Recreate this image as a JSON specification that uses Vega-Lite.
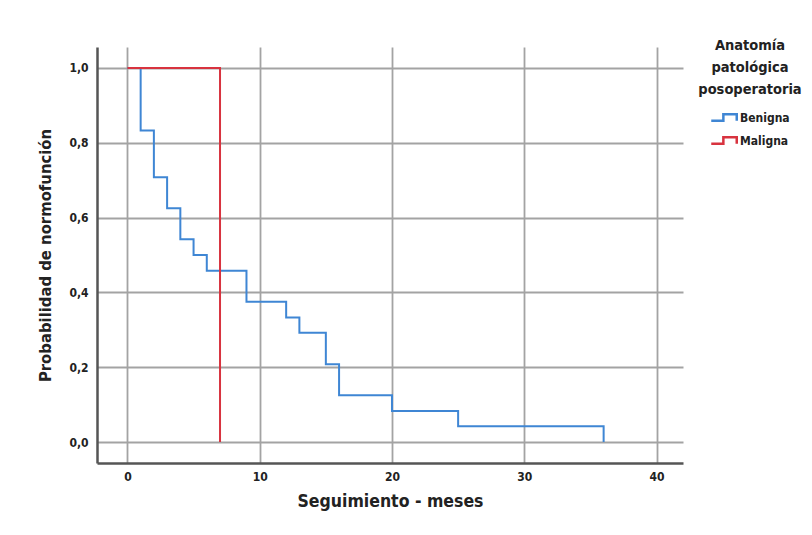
{
  "$schema": "https://vega.github.io/schema/vega-lite/v6.json",
  "width": 586,
  "height": 416,
  "autosize": "none",
  "padding": {"left": 97, "top": 47, "right": 129, "bottom": 72},
  "background": "white",
  "config": {
    "view": {"stroke": null},
    "font": "'DejaVu Sans Condensed', Roboto, sans-serif",
    "axis": {"labelFont": "'DejaVu Sans Condensed', Roboto, sans-serif", "titleFont": "'DejaVu Sans Condensed', Roboto, sans-serif"},
    "legend": {"labelFont": "'DejaVu Sans Condensed', Roboto, sans-serif", "titleFont": "'DejaVu Sans Condensed', Roboto, sans-serif"}
  },
  "data": {
    "values": [
      {"t": 0, "s": 1.0, "g": "Benigna"},
      {"t": 1, "s": 0.833, "g": "Benigna"},
      {"t": 2, "s": 0.708, "g": "Benigna"},
      {"t": 3, "s": 0.625, "g": "Benigna"},
      {"t": 4, "s": 0.542, "g": "Benigna"},
      {"t": 5, "s": 0.5, "g": "Benigna"},
      {"t": 6, "s": 0.458, "g": "Benigna"},
      {"t": 9, "s": 0.375, "g": "Benigna"},
      {"t": 12, "s": 0.333, "g": "Benigna"},
      {"t": 13, "s": 0.292, "g": "Benigna"},
      {"t": 15, "s": 0.208, "g": "Benigna"},
      {"t": 16, "s": 0.125, "g": "Benigna"},
      {"t": 20, "s": 0.083, "g": "Benigna"},
      {"t": 25, "s": 0.042, "g": "Benigna"},
      {"t": 36, "s": 0.0, "g": "Benigna"},
      {"t": 0, "s": 1.0, "g": "Maligna"},
      {"t": 7, "s": 0.0, "g": "Maligna"}
    ]
  },
  "mark": {"type": "line", "interpolate": "step-after", "strokeWidth": 2},
  "encoding": {
    "x": {
      "field": "t", "type": "quantitative",
      "scale": {"domain": [-2.3, 42], "nice": false, "zero": false},
      "axis": {
        "values": [0, 10, 20, 30, 40],
        "title": "Seguimiento - meses",
        "titleFontSize": 17.5, "titleFontWeight": "bold", "titleColor": "#222",
        "titlePadding": 10,
        "labelFontSize": 12, "labelFontWeight": "bold", "labelColor": "#222",
        "labelPadding": 8,
        "ticks": false,
        "domainColor": "#555", "domainWidth": 2.5,
        "grid": true, "gridColor": "#a3a3a3", "gridWidth": 1.8
      }
    },
    "y": {
      "field": "s", "type": "quantitative",
      "scale": {"domain": [-0.056, 1.056], "nice": false, "zero": false},
      "axis": {
        "values": [0, 0.2, 0.4, 0.6, 0.8, 1.0],
        "labelExpr": "replace(format(datum.value, '.1f'), '.', ',')",
        "title": "Probabilidad de normofunción",
        "titleFontSize": 16.5, "titleFontWeight": "bold", "titleColor": "#222",
        "titlePadding": 15,
        "labelFontSize": 12, "labelFontWeight": "bold", "labelColor": "#222",
        "labelPadding": 9,
        "ticks": false,
        "domainColor": "#555", "domainWidth": 2.5,
        "grid": true, "gridColor": "#a3a3a3", "gridWidth": 1.8
      }
    },
    "color": {
      "field": "g", "type": "nominal",
      "scale": {"domain": ["Benigna", "Maligna"], "range": ["#3f86d4", "#d8333f"]},
      "legend": {
        "title": ["Anatomía", "patológica", "posoperatoria"],
        "orient": "none",
        "legendX": 601,
        "legendY": -8,
        "titleFontSize": 14.5, "titleFontWeight": "bold", "titleColor": "#222",
        "titleLineHeight": 22,
        "titleAlign": "center", "titleAnchor": "middle",
        "titlePadding": 6,
        "labelFontSize": 12, "labelFontWeight": "bold", "labelColor": "#222",
        "labelOffset": 2,
        "symbolType": "M-1,0.25L-0.05,0.25L-0.05,-0.25L1,-0.25L1,0.25",
        "symbolSize": 650,
        "symbolStrokeWidth": 2.5,
        "symbolFillColor": "transparent",
        "rowPadding": -7
      }
    }
  }
}
